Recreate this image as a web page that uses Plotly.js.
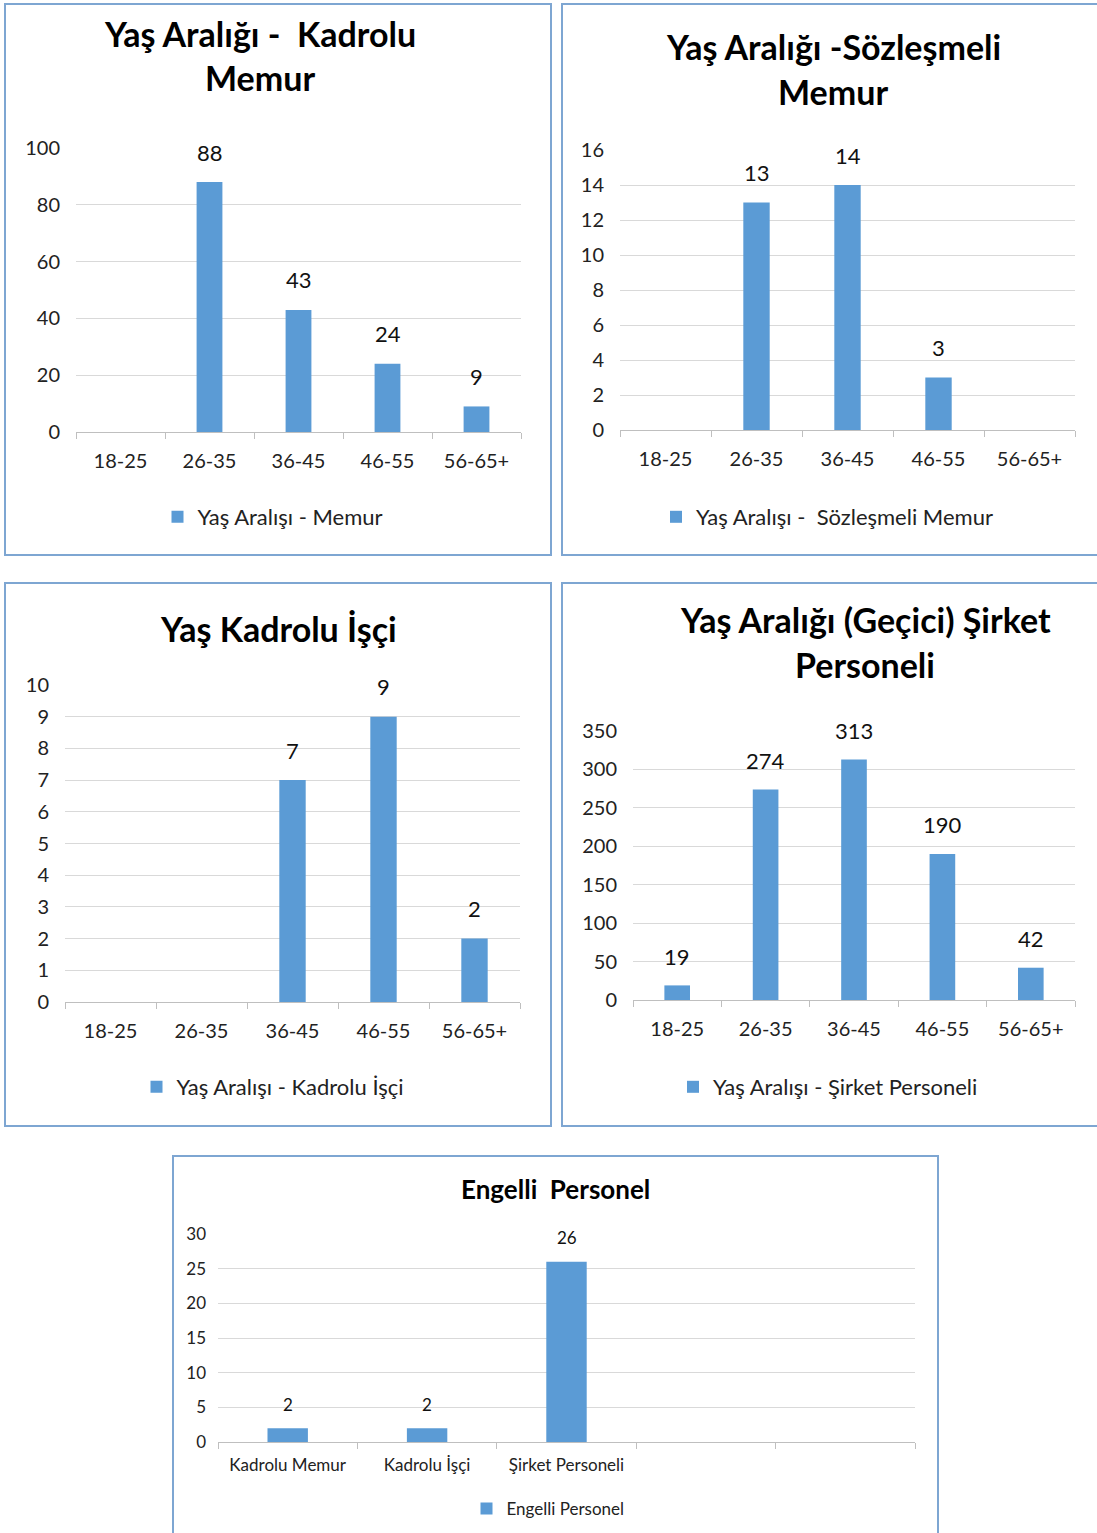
<!DOCTYPE html>
<html><head><meta charset="utf-8">
<script src="https://cdn.plot.ly/plotly-3.0.1.min.js"></script>
<style>
body{margin:0;width:1097px;height:1533px;overflow:hidden;background:#fff;position:relative}
.panel{position:absolute;border:2px solid #7ea6d2;box-sizing:border-box;overflow:hidden;background:#fff}
</style></head><body>
<div id="p1" class="panel"><div id="c1"></div></div>
<div id="p2" class="panel"><div id="c2"></div></div>
<div id="p3" class="panel"><div id="c3"></div></div>
<div id="p4" class="panel"><div id="c4"></div></div>
<div id="p5" class="panel"><div id="c5"></div></div>
<script>
// ---- data ----
const ageGroups = ["18-25", "26-35", "36-45", "46-55", "56-65+"];
const kadroluMemur = [null, 88, 43, 24, 9];
const sozlesmeliMemur = [null, 13, 14, 3, null];
const kadroluIsci = [null, null, 7, 9, 2];
const sirketPersoneli = [19, 274, 313, 190, 42];
const engelliCategories = ["Kadrolu Memur", "Kadrolu İşçi", "Şirket Personeli", " ", "  "];
const engelliValues = [2, 2, 26, null, null];

const titles = {
  c1: ["Yaş Aralığı -  Kadrolu", "Memur"],
  c2: ["Yaş Aralığı -Sözleşmeli", "Memur"],
  c3: ["Yaş Kadrolu İşçi"],
  c4: ["Yaş Aralığı (Geçici) Şirket", "Personeli"],
  c5: ["Engelli  Personel"]
};
const seriesNames = {
  c1: "Yaş Aralışı - Memur",
  c2: "Yaş Aralışı -  Sözleşmeli Memur",
  c3: "Yaş Aralışı - Kadrolu İşçi",
  c4: "Yaş Aralışı - Şirket Personeli",
  c5: "Engelli Personel"
};

// ---- layout/styling ----
const FONT = 'Lato, "Open Sans", sans-serif';
const BAR = '#5b9bd5';
const panels = [
  {pid:'p1', cid:'c1', box:[4,3,548,553], plot:[76,521,148,432], cats:ageGroups, vals:kadroluMemur,
   yr:[0,100], dtick:20, titleY:[33,77], titleX:260, leg:[273,517],
   fs:{title:34, tick:20, label:22, legend:22}, shift:30, xstand:11, ystand:15},
  {pid:'p2', cid:'c2', box:[561,3,538,553], plot:[620,1075,150,430], cats:ageGroups, vals:sozlesmeliMemur,
   yr:[0,16], dtick:2, titleY:[46,91], titleX:833, leg:[827,517],
   fs:{title:34, tick:20, label:22, legend:22}, shift:30, xstand:11, ystand:15},
  {pid:'p3', cid:'c3', box:[4,582,548,545], plot:[65,520,685,1002], cats:ageGroups, vals:kadroluIsci,
   yr:[0,10], dtick:1, titleY:[628], titleX:278, leg:[273,1087],
   fs:{title:34, tick:20, label:22, legend:22}, shift:30, xstand:11, ystand:15},
  {pid:'p4', cid:'c4', box:[561,582,538,545], plot:[633,1075,731,1000], cats:ageGroups, vals:sirketPersoneli,
   yr:[0,350], dtick:50, titleY:[620,664], titleX:865, leg:[828,1087],
   fs:{title:34, tick:20, label:22, legend:22}, shift:29, xstand:11, ystand:15},
  {pid:'p5', cid:'c5', box:[172,1155,767,400], plot:[218,915,1234,1442], cats:engelliCategories, vals:engelliValues,
   yr:[0,30], dtick:5, titleY:[1189], titleX:555, leg:[548,1509],
   fs:{title:26, tick:17, label:17, legend:17}, shift:24, xstand:8, ystand:11}
];

panels.forEach(p => {
  const [bl, bt, bw, bh] = p.box;
  const el = document.getElementById(p.pid);
  el.style.left = bl + 'px'; el.style.top = bt + 'px';
  el.style.width = bw + 'px'; el.style.height = bh + 'px';
  const ox = bl + 2, oy = bt + 2, cw = bw - 4, ch = bh - 4;
  const [pl, pr, pt, pb] = p.plot;
  const px = X => (X - pl) / (pr - pl);
  const py = Y => (pb - Y) / (pb - pt);

  const ann = [];
  titles[p.cid].forEach((t, i) => {
    ann.push({text: '<b>' + t + '</b>', xref:'paper', yref:'paper', x: px(p.titleX), y: py(p.titleY[i]),
      xanchor:'center', yanchor:'middle', showarrow:false,
      font:{family:FONT, size:p.fs.title, color:'#000'}});
  });
  p.cats.forEach((c, i) => {
    const v = p.vals[i];
    if (v === null || v === undefined) return;
    ann.push({text: String(v), xref:'x', yref:'y', x: c, y: v, yshift: p.shift,
      xanchor:'center', yanchor:'middle', showarrow:false,
      font:{family:FONT, size:p.fs.label, color:'#111'}});
  });

  const trace = {type:'bar', x:p.cats, y:p.vals, name:seriesNames[p.cid], marker:{color:BAR},
    showlegend:true, hoverinfo:'none'};

  const layout = {
    width: cw, height: ch,
    margin: {l: pl - ox, r: cw - (pr - ox), t: pt - oy, b: ch - (pb - oy), pad: 0},
    paper_bgcolor:'#fff', plot_bgcolor:'#fff',
    font:{family:FONT, color:'#222'},
    bargap: 0.71,
    showlegend: true,
    legend: {orientation:'h', x: px(p.leg[0]), y: py(p.leg[1]), xanchor:'center', yanchor:'middle',
      font:{family:FONT, size:p.fs.legend, color:'#222'}, bgcolor:'rgba(0,0,0,0)'},
    xaxis: {type:'category', categoryorder:'array', categoryarray:p.cats, range:[-0.5, p.cats.length - 0.5],
      showline:true, linecolor:'#bfbfbf', linewidth:1, ticks:'outside', tickson:'boundaries',
      ticklen:6, tickcolor:'#bfbfbf', showgrid:false, ticklabelstandoff:p.xstand,
      tickfont:{family:FONT, size:p.fs.tick, color:'#222'}, fixedrange:true},
    yaxis: {range:p.yr, dtick:p.dtick, tick0:0, showgrid:true, gridcolor:'#d9d9d9', gridwidth:1,
      zeroline:false, showline:false, ticks:'', ticklabelstandoff:p.ystand,
      tickfont:{family:FONT, size:p.fs.tick, color:'#222'}, fixedrange:true},
    annotations: ann
  };
  Plotly.newPlot(p.cid, [trace], layout, {displayModeBar:false, staticPlot:true});
});
</script>
</body></html>
